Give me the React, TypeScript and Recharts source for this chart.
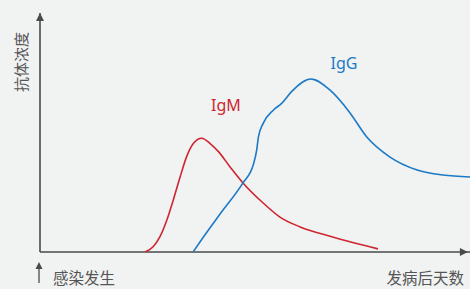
import React from 'react';
import { LineChart, Line, XAxis, YAxis, ReferenceDot, ReferenceLine, Customized } from 'recharts';

// x: days after onset (relative 0-100), y: antibody concentration (relative 0-100)
const igmDays = [24.4, 26.3, 27.9, 29.5, 31.0, 32.6, 34.1, 35.7, 37.6, 39.5, 41.5, 44.2, 47.2, 51.9, 55.8, 60.5, 68.1, 78.6];
const igmLevels = [0, 2.2, 6.4, 13.4, 21.8, 31.5, 39.9, 45.5, 47.6, 45.5, 42.0, 35.6, 28.9, 20.5, 14.6, 10.5, 6.3, 1.3];

const iggDays = [35.6, 37.2, 42.0, 47.2, 49.6, 50.4, 50.8, 51.9, 54.3, 56.2, 58.5, 63.0, 67.4, 72.1, 76.0, 81.4, 87.7, 93.7, 100];
const iggLevels = [0, 4.2, 16.2, 28.9, 36.5, 42.7, 48.2, 53.8, 59.4, 62.2, 67.1, 72.4, 67.8, 58.2, 48.1, 39.7, 34.3, 32.2, 31.4];

const yTitle = '抗体浓度';
const startLabel = '感染发生';
const xTitle = '发病后天数';
const seriesNames = ['IgM', 'IgG'];

const igmData = igmDays.map((d, i) => ({ day: d, v: igmLevels[i] }));
const iggData = iggDays.map((d, i) => ({ day: d, v: iggLevels[i] }));

const RED = '#cf2530';
const BLUE = '#1c7ac6';
const AXIS = '#4a4a4a';
const TEXT = '#555555';
const CJK = '"Noto Sans CJK SC", "Noto Sans", sans-serif';
const LAT = '"Noto Sans", "Open Sans", sans-serif';

const UpArrow = (props: any) => {
  const { cx, cy } = props;
  return <path d={`M${cx},${cy} L${cx - 4},${cy + 8} L${cx + 4},${cy + 8} Z`} fill={AXIS} />;
};
const RightArrow = (props: any) => {
  const { cx, cy } = props;
  return <path d={`M${cx},${cy} L${cx - 8},${cy - 4} L${cx - 8},${cy + 4} Z`} fill={AXIS} />;
};

const Texts = () => (
  <g>
    <text x={27} y={62} transform="rotate(-90 27 62)" textAnchor="middle" fontSize={15} fill={TEXT} fontFamily={CJK}>
      {yTitle}
    </text>
    <line x1={39} y1={267} x2={39} y2={283} stroke={AXIS} strokeWidth={1.3} />
    <path d="M39,262 L35.5,269 L42.5,269 Z" fill={AXIS} />
    <text x={53} y={284} fontSize={15.5} fill={TEXT} fontFamily={CJK}>
      {startLabel}
    </text>
    <text x={464} y={284} textAnchor="end" fontSize={15.5} fill={TEXT} fontFamily={CJK}>
      {xTitle}
    </text>
    <text x={226} y={111} textAnchor="middle" fontSize={16} fill={RED} fontFamily={LAT}>
      {seriesNames[0]}
    </text>
    <text x={344} y={69} textAnchor="middle" fontSize={16} fill={BLUE} fontFamily={LAT}>
      {seriesNames[1]}
    </text>
  </g>
);

export default function App() {
  return (
    <div style={{ position: 'absolute', left: 0, top: 0, width: 470, height: 289, background: '#f1f2f2' }}>
      <LineChart width={470} height={289} margin={{ top: 13, right: 0, left: 40, bottom: 37 }}>
        <XAxis type="number" dataKey="day" domain={[0, 100]} hide allowDataOverflow />
        <YAxis type="number" dataKey="v" domain={[0, 100]} hide allowDataOverflow />
        <ReferenceLine y={0} stroke={AXIS} strokeWidth={1.6} ifOverflow="visible" />
        <ReferenceLine x={0} stroke={AXIS} strokeWidth={1.6} ifOverflow="visible" />
        <Line data={igmData} dataKey="v" type="monotone" stroke={RED} strokeWidth={1.6} dot={false} isAnimationActive={false} />
        <Line data={iggData} dataKey="v" type="monotone" stroke={BLUE} strokeWidth={1.6} dot={false} isAnimationActive={false} />
        <ReferenceDot x={0} y={100} r={0} ifOverflow="visible" shape={UpArrow} />
        <ReferenceDot x={99.5} y={0} r={0} ifOverflow="visible" shape={RightArrow} />
        <Customized component={Texts} />
      </LineChart>
    </div>
  );
}
